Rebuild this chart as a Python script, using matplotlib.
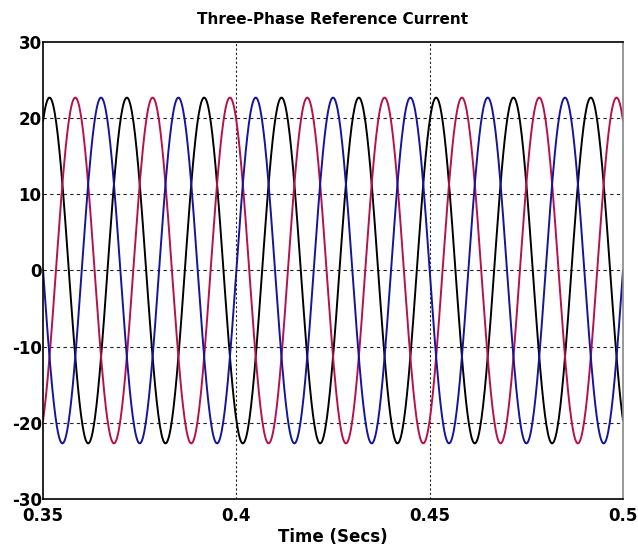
import numpy as np
import matplotlib
matplotlib.use("Agg")
import matplotlib.pyplot as plt

plt.rcParams["axes.unicode_minus"] = False

# Signal parameters
series_names = ["Phase A", "Phase B", "Phase C"]
amplitude = 22.7            # peak current
frequency_hz = 50.0         # one cycle ~ 0.02 s
phase_deg = [-120.0, 120.0, 0.0]   # black, red, blue
series_colors = ["#000000", "#b8104c", "#14149c"]
t_start, t_end = 0.35, 0.50
sample_step = 0.0002

x_ticks = [0.35, 0.4, 0.45, 0.5]
x_tick_labels = ["0.35", "0.4", "0.45", "0.5"]
y_ticks = [-30, -20, -10, 0, 10, 20, 30]

t = np.arange(t_start, t_end + sample_step / 2, sample_step)

fig = plt.figure(figsize=(6.38, 5.45), dpi=100)
ax = fig.add_axes([0.0675, 0.0844, 0.909, 0.8386])

for ph, col in zip(phase_deg, series_colors):
    y = amplitude * np.sin(2 * np.pi * frequency_hz * t + np.deg2rad(ph))
    ax.plot(t, y, color=col, lw=1.4)

ax.set_xlim(t_start, t_end)
ax.set_ylim(-30, 30)
ax.set_xticks(x_ticks)
ax.set_xticklabels(x_tick_labels)
ax.set_yticks(y_ticks)
ax.tick_params(axis="y", length=0, labelsize=12, pad=1)
ax.tick_params(axis="x", length=0, labelsize=12, pad=6)
for lab in ax.get_xticklabels() + ax.get_yticklabels():
    lab.set_fontweight("bold")

for yv in [-20, -10, 0, 10, 20]:
    ax.axhline(yv, color="#222222", lw=0.8, ls=(0, (3, 3)), zorder=0.5)
for xv in [0.4, 0.45]:
    ax.axvline(xv, color="#222222", lw=0.8, ls=(0, (2, 2)), zorder=0.5)

for s in ["left", "top", "bottom"]:
    ax.spines[s].set_color("#000000")
    ax.spines[s].set_linewidth(1.2)
ax.spines["right"].set_color("#888888")
ax.spines["right"].set_linewidth(1.2)

ax.set_title("Three-Phase Reference Current", fontsize=11, fontweight="bold", pad=13)
ax.set_xlabel("Time (Secs)", fontsize=12, fontweight="bold", labelpad=2)

fig.savefig("out.png", dpi=100)
